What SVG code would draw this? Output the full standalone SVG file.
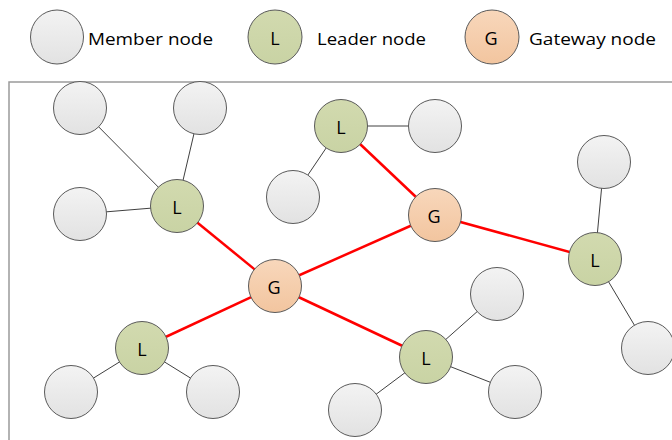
<svg xmlns="http://www.w3.org/2000/svg" width="672" height="440" viewBox="0 0 672 440">
<defs>
<linearGradient id="gm" x1="0" y1="0" x2="0" y2="1"><stop offset="0" stop-color="#f3f3f3"/><stop offset="1" stop-color="#e2e2e2"/></linearGradient>
<linearGradient id="gl" x1="0" y1="0" x2="0" y2="1"><stop offset="0" stop-color="#d2daaf"/><stop offset="1" stop-color="#c9d3a4"/></linearGradient>
<linearGradient id="gg" x1="0" y1="0" x2="0" y2="1"><stop offset="0" stop-color="#f8d7bb"/><stop offset="1" stop-color="#f2c59f"/></linearGradient>
</defs>
<style>
.m{fill:url(#gm);stroke:#5a5a5a;stroke-width:1}
.l{fill:url(#gl);stroke:#5a5a5a;stroke-width:1}
.g{fill:url(#gg);stroke:#5a5a5a;stroke-width:1}
.t{font-family:"Open Sans","Liberation Sans",sans-serif;font-size:18px;fill:#000;text-anchor:middle}
.lg{font-family:"Open Sans","Liberation Sans",sans-serif;font-size:17px;fill:#000}
.thin{stroke:#404040;stroke-width:1;fill:none}
.red{stroke:#ff0000;stroke-width:2.5;fill:none}
</style>
<rect width="672" height="440" fill="#fff"/>
<g id="legend">
<ellipse class="m" cx="57" cy="37" rx="26.5" ry="27"/>
<text class="lg" x="88" y="44.5" textLength="125" lengthAdjust="spacingAndGlyphs">Member node</text>
<circle class="l" cx="275" cy="37" r="27"/>
<text class="t" x="275" y="45">L</text>
<text class="lg" x="317" y="45" textLength="109" lengthAdjust="spacingAndGlyphs">Leader node</text>
<circle class="g" cx="492" cy="37" r="27"/>
<text class="t" x="491" y="45">G</text>
<text class="lg" x="529" y="45" textLength="127" lengthAdjust="spacingAndGlyphs">Gateway node</text>
</g>
<rect id="frame" x="9" y="82" width="680" height="400" fill="none" stroke="#9a9a9a" stroke-width="1.5"/>
<g id="connectors">
<line class="thin" x1="177" y1="206" x2="80" y2="108"/>
<line class="thin" x1="177" y1="206" x2="200" y2="108"/>
<line class="thin" x1="177" y1="206" x2="80" y2="214"/>
<line class="thin" x1="341" y1="126" x2="293" y2="197"/>
<line class="thin" x1="341" y1="126" x2="435" y2="126"/>
<line class="thin" x1="595" y1="259" x2="604" y2="162"/>
<line class="thin" x1="595" y1="259" x2="648" y2="348"/>
<line class="thin" x1="426" y1="357" x2="497" y2="294"/>
<line class="thin" x1="426" y1="357" x2="515" y2="392"/>
<line class="thin" x1="426" y1="357" x2="355" y2="410"/>
<line class="thin" x1="142" y1="348" x2="71" y2="392"/>
<line class="thin" x1="142" y1="348" x2="213" y2="392"/>
<line class="red" x1="177" y1="206" x2="275" y2="286"/>
<line class="red" x1="275" y1="286" x2="435" y2="215"/>
<line class="red" x1="435" y1="215" x2="341" y2="126"/>
<line class="red" x1="435" y1="215" x2="595" y2="259"/>
<line class="red" x1="275" y1="286" x2="142" y2="348"/>
<line class="red" x1="275" y1="286" x2="426" y2="357"/>
</g>
<g id="member-a"><circle class="m" cx="80" cy="108" r="26.5"/></g>
<g id="member-b"><circle class="m" cx="200" cy="108" r="26.5"/></g>
<g id="member-c"><circle class="m" cx="80" cy="214" r="26.5"/></g>
<g id="member-d"><circle class="m" cx="293" cy="197" r="26.5"/></g>
<g id="member-e"><circle class="m" cx="435" cy="126" r="26.5"/></g>
<g id="member-f"><circle class="m" cx="604" cy="162" r="26.5"/></g>
<g id="member-g"><circle class="m" cx="648" cy="348" r="26.5"/></g>
<g id="member-h"><circle class="m" cx="497" cy="294" r="26.5"/></g>
<g id="member-i"><circle class="m" cx="515" cy="392" r="26.5"/></g>
<g id="member-j"><circle class="m" cx="355" cy="410" r="26.5"/></g>
<g id="member-k"><circle class="m" cx="71" cy="392" r="26.5"/></g>
<g id="member-l"><circle class="m" cx="213" cy="392" r="26.5"/></g>
<g id="leader-1"><circle class="l" cx="177" cy="206" r="26.5"/><text class="t" x="177" y="214">L</text></g>
<g id="leader-2"><circle class="l" cx="341" cy="126" r="26.5"/><text class="t" x="341" y="134">L</text></g>
<g id="leader-3"><circle class="l" cx="595" cy="259" r="26.5"/><text class="t" x="595" y="267">L</text></g>
<g id="leader-4"><circle class="l" cx="426" cy="357" r="26.5"/><text class="t" x="426" y="365">L</text></g>
<g id="leader-5"><circle class="l" cx="142" cy="348" r="26.5"/><text class="t" x="142" y="356">L</text></g>
<g id="gateway-1"><circle class="g" cx="435" cy="215" r="26.5"/><text class="t" x="434" y="223">G</text></g>
<g id="gateway-2"><circle class="g" cx="275" cy="286" r="26.5"/><text class="t" x="274" y="294">G</text></g>
</svg>
